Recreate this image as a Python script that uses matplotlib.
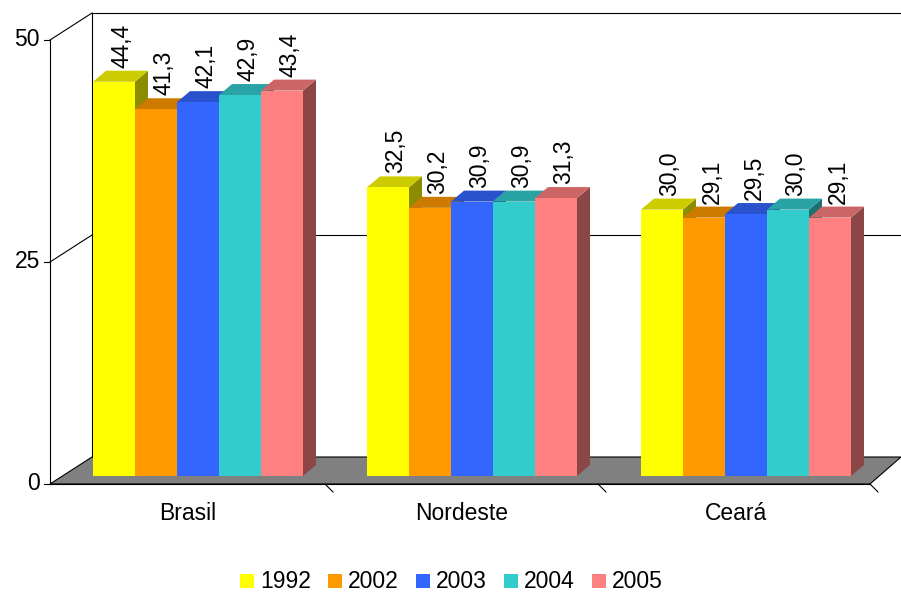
import matplotlib
matplotlib.use("Agg")
import matplotlib.pyplot as plt
from matplotlib.patches import Polygon
import numpy as np

categories = ["Brasil", "Nordeste", "Ceará"]
years = ["1992", "2002", "2003", "2004", "2005"]
values = {
    "1992": [44.4, 32.5, 30.0],
    "2002": [41.3, 30.2, 29.1],
    "2003": [42.1, 30.9, 29.5],
    "2004": [42.9, 30.9, 30.0],
    "2005": [43.4, 31.3, 29.1],
}
yticks = [0, 25, 50]
colors = ["#FFFF00", "#FF9900", "#3366FF", "#33CCCC", "#FF8080"]

def darken(c, f):
    import matplotlib.colors as mc
    r, g, b = mc.to_rgb(c)
    return (r*f, g*f, b*f)

FONT = dict(fontsize=16.5, family="Liberation Sans")
fig = plt.figure(figsize=(9.01, 5.93), dpi=100)
ax = fig.add_axes([0, 0, 1, 1])
ax.set_xlim(0, 901); ax.set_ylim(593, 0); ax.axis("off")

S = 8.88
def yfront(v): return 484 - v*S
def yback(v): return 457 - v*S
DX = 42

ax.add_patch(Polygon([(50, 484), (50+DX, 457), (901, 457), (870, 484)], closed=True, fc="#808080", ec="black", lw=0.8, zorder=0))
ax.plot([50+DX, 50+DX], [yback(0), yback(50)], color="black", lw=0.8, zorder=0)
for t in yticks[1:]:
    ax.plot([50+DX, 901], [yback(t), yback(t)], color="black", lw=0.8, zorder=0)
    ax.plot([50, 50+DX], [yfront(t), yback(t)], color="black", lw=0.8, zorder=0)
ax.plot([50, 50], [yfront(0), yfront(50)], color="black", lw=0.8)
for t in yticks:
    ax.plot([44, 50], [yfront(t), yfront(t)], color="black", lw=0.8)
    ax.text(40, yfront(t), str(t), ha="right", va="center", **FONT)
ax.plot([50, 870], [484, 484], color="black", lw=0.8)
for xt in [325, 598, 870]:
    ax.plot([xt, xt+8], [484, 492], color="black", lw=0.8)

group_x0 = [93, 367, 641]
bw = 42
bdx, bdy = 13, 11
base = 476
for gi, cat in enumerate(categories):
    for yi, yr in enumerate(years):
        v = values[yr][gi]
        x0 = group_x0[gi] + yi*bw
        top = base - v*S
        c = colors[yi]
        ax.add_patch(Polygon([(x0+bw, base), (x0+bw+bdx, base-bdy), (x0+bw+bdx, top-bdy), (x0+bw, top)], fc=darken(c, 0.55), ec="none", zorder=2))
        ax.add_patch(Polygon([(x0, top), (x0+bdx, top-bdy), (x0+bw+bdx, top-bdy), (x0+bw, top)], fc=darken(c, 0.8), ec="none", zorder=2))
        ax.add_patch(Polygon([(x0, base), (x0+bw, base), (x0+bw, top), (x0, top)], fc=c, ec="none", zorder=2))
        ax.text(x0+bw/2+8, top-bdy-3, f"{v:.1f}".replace(".", ","), rotation=90, ha="center", va="bottom", zorder=3, **FONT)
    ax.text(group_x0[gi]+95, 513, cat, ha="center", va="center", **FONT)

lx = 240
for yi, yr in enumerate(years):
    x = lx + yi*88
    ax.add_patch(Polygon([(x, 574), (x+14, 574), (x+14, 588), (x, 588)], fc=colors[yi], ec="none"))
    ax.text(x+20, 581, yr, ha="left", va="center", **FONT)

fig.savefig("out.png", dpi=100)
